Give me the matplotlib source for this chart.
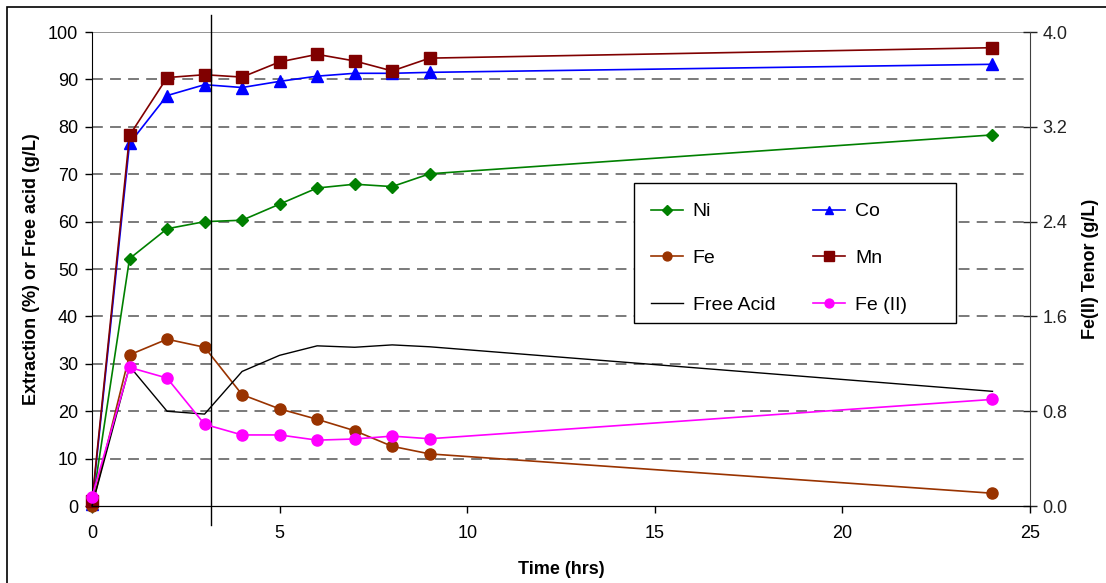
import matplotlib
matplotlib.use('Agg')
import matplotlib.pyplot as plt
import matplotlib.transforms as mtransforms
from matplotlib.patches import Rectangle

plt.rcParams['font.family'] = ['Liberation Sans', 'DejaVu Sans']

# Data
time_hrs = [0, 1, 2, 3, 4, 5, 6, 7, 8, 9, 24]
ni = [0.0, 52.2, 58.5, 60.0, 60.3, 63.7, 67.1, 67.9, 67.4, 70.1, 78.3]
co = [0.5, 76.5, 86.6, 88.9, 88.3, 89.6, 90.7, 91.3, 91.3, 91.5, 93.2]
fe = [0.0, 31.9, 35.2, 33.5, 23.5, 20.5, 18.3, 15.9, 12.6, 11.0, 2.7]
mn = [1.0, 78.2, 90.4, 91.0, 90.5, 93.7, 95.3, 93.9, 91.8, 94.5, 96.7]
free_acid = [0.0, 29.5, 20.0, 19.4, 28.4, 31.8, 33.8, 33.5, 34.0, 33.6, 24.2]
fe2_tenor = [0.08, 1.17, 1.08, 0.69, 0.60, 0.60, 0.556, 0.566, 0.59, 0.568, 0.90]

left_ticks = list(range(0, 101, 10))
right_ticks = [0.0, 0.8, 1.6, 2.4, 3.2, 4.0]
x_ticks = [0, 5, 10, 15, 20, 25]
marker_line_x = 3.17

fig = plt.figure(figsize=(11.06, 5.83), dpi=100)
ax = fig.add_axes([0.0832, 0.132, 0.8481, 0.813])
ax2 = ax.twinx()

# outer frame around the whole figure
fig.patches.append(Rectangle((0.0065, -0.02), 1.1, 1.0 - 0.0065 + 0.02 - 0.006,
                             transform=fig.transFigure, fill=False,
                             edgecolor='black', linewidth=1.2))

# horizontal gridlines
for v in left_ticks[1:-1]:
    ax.axhline(v, color='#707070', linestyle=(0, (6, 4)), linewidth=1.3, zorder=0)
ax.axhline(100, color='#808080', linewidth=1.2, zorder=0)

ax.plot(time_hrs, ni, color='#008000', marker='D', markersize=6, linewidth=1.2, label='Ni', clip_on=False)
ax.plot(time_hrs, co, color='#0000FF', marker='^', markersize=8, linewidth=1.2, label='Co', clip_on=False)
ax.plot(time_hrs, fe, color='#993300', marker='o', markersize=8, linewidth=1.2, label='Fe', clip_on=False)
ax.plot(time_hrs, mn, color='#800000', marker='s', markersize=9, linewidth=1.2, label='Mn', clip_on=False)
ax.plot(time_hrs, free_acid, color='black', linewidth=1.0, label='Free Acid', clip_on=False)
ax2.plot(time_hrs, fe2_tenor, color='#FF00FF', marker='o', markersize=8, linewidth=1.2, label='Fe (II)', clip_on=False)

# vertical marker line extending past the plot area
trans = mtransforms.blended_transform_factory(ax.transData, ax.transAxes)
ax.plot([marker_line_x, marker_line_x], [-0.04, 1.036], color='black', linewidth=1.0,
        transform=trans, clip_on=False)

ax.set_xlim(0, 25)
ax.set_ylim(0, 100)
ax2.set_ylim(0, 4.0)
ax.set_xticks(x_ticks)
ax.set_yticks(left_ticks)
ax2.set_yticks(right_ticks)
ax2.set_yticklabels([f'{v:.1f}' for v in right_ticks])

for a in (ax, ax2):
    a.spines['top'].set_visible(False)
ax.spines['right'].set_visible(False)
ax2.spines['left'].set_visible(False)
ax2.spines['right'].set_color('#404040')
ax.tick_params(axis='both', labelsize=13, direction='out', length=5, width=1)
ax.tick_params(axis='x', pad=9)
ax.tick_params(axis='y', pad=5)
ax2.tick_params(axis='y', labelsize=13, direction='inout', length=10, width=1,
                pad=4, colors='#222222')

ax.set_xlabel('Time (hrs)', fontsize=13, fontweight='bold', labelpad=13)
ax.set_ylabel('Extraction (%) or Free acid (g/L)', fontsize=13, fontweight='bold', labelpad=6)
ax2.set_ylabel('Fe(II) Tenor (g/L)', fontsize=13, fontweight='bold', labelpad=10)

# legend box (fixed size, as in the original) + legend entries inside it
ax2.add_patch(Rectangle((0.578, 0.386), 0.343, 0.295, transform=ax2.transAxes,
                        facecolor='white', edgecolor='black', linewidth=1.0, zorder=1))
h1, l1 = ax.get_legend_handles_labels()
h2, l2 = ax2.get_legend_handles_labels()
hd = dict(zip(l1 + l2, h1 + h2))
order = ['Ni', 'Fe', 'Free Acid', 'Co', 'Mn', 'Fe (II)']
leg = ax2.legend([hd[k] for k in order], order, ncol=2, loc='upper left',
                 bbox_to_anchor=(0.596, 0.64), fontsize=14, frameon=False,
                 labelspacing=1.5, columnspacing=1.95, handlelength=1.65,
                 handletextpad=0.5, borderpad=0, borderaxespad=0,
                 markerscale=0.8)
leg.set_zorder(3)

fig.savefig('out.png', dpi=100)
